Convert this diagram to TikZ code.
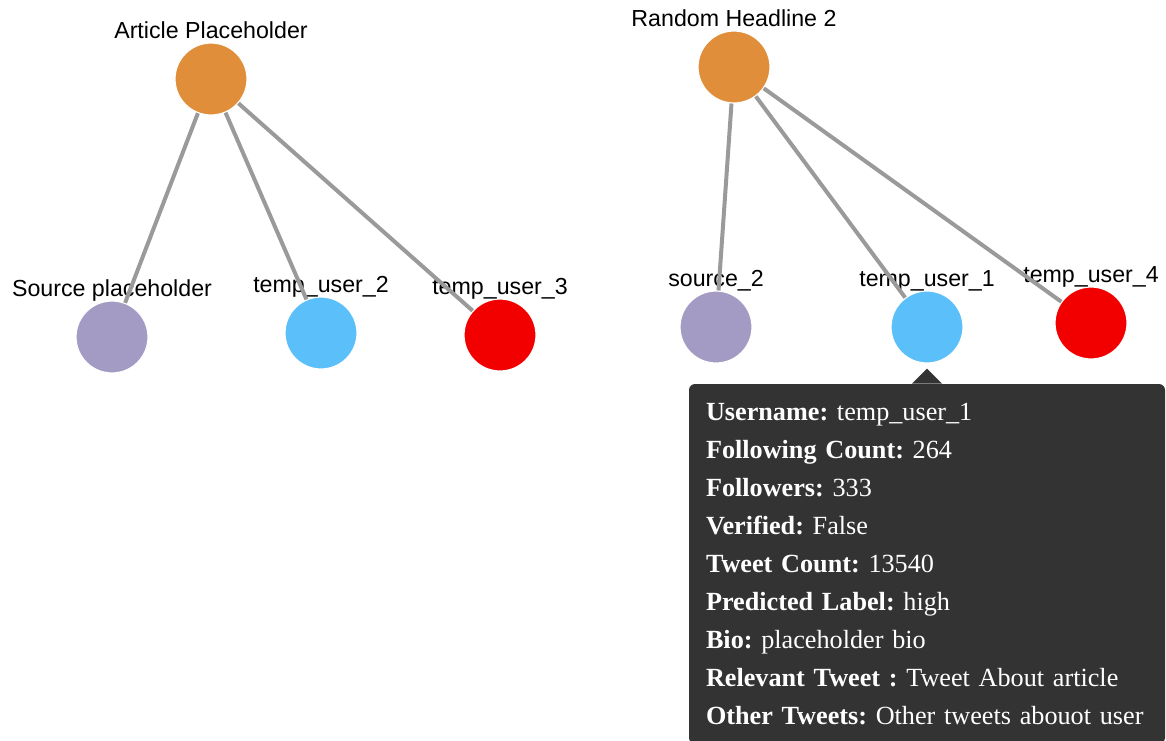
\documentclass[tikz,border=0pt]{standalone}
\usepackage{fontspec}
\setmainfont{Liberation Serif}
\newfontfamily\lblfont{Liberation Sans}
\usetikzlibrary{positioning}
\definecolor{headline}{HTML}{E08E3A}
\definecolor{source}{HTML}{A39BC3}
\definecolor{user}{HTML}{5BBFF9}
\definecolor{flagged}{HTML}{F20000}
\definecolor{tipbg}{HTML}{333333}
\definecolor{linkgray}{HTML}{9A9A9A}

\begin{document}
\begin{tikzpicture}[x=0.5pt,y=-0.5pt,
    vertex/.style={circle,minimum size=36pt,inner sep=0pt,draw=white,line width=0.6pt},
    lbl/.style={font=\lblfont\fontsize{11.6}{13}\selectfont,anchor=base,inner sep=0pt,label distance=2pt},
    link/.style={draw=linkgray,line width=2pt},
    tipbox/.style={fill=tipbg,text=white,rounded corners=3pt,text width=221pt,align=left,
      inner xsep=8.5pt,inner ysep=9.5pt,font=\frenchspacing\fontsize{13.1}{19}\selectfont}]
  \useasboundingbox (0,0) rectangle (1166,740);
  % first article
  \node[vertex,fill=headline,label={[lbl]above:Article Placeholder}] (a1) at (211,79) {};
  \node[vertex,fill=source,label={[lbl]above:Source placeholder}] (s1) at (112,337) {};
  \node[vertex,fill=user,label={[lbl]above:temp\_user\_2}] (u2) at (321,333) {};
  \node[vertex,fill=flagged,label={[lbl]above:temp\_user\_3}] (u3) at (500,335) {};
  % second article
  \node[vertex,fill=headline,label={[lbl]above:Random Headline 2}] (a2) at (734,67) {};
  \node[vertex,fill=source,label={[lbl]above:source\_2}] (s2) at (716,327) {};
  \node[vertex,fill=user,label={[lbl]above:temp\_user\_1}] (u1) at (927,327) {};
  \node[vertex,fill=flagged,label={[lbl]above:temp\_user\_4}] (u4) at (1091,323) {};
  \begin{scope}[link]
    \draw (a1) to (s1);
    \draw (a1) to (u2);
    \draw (a1) to (u3);
    \draw (a2) to (s2);
    \draw (a2) to (u1);
    \draw (a2) to (u4);
  \end{scope}
  % tooltip
  \node[tipbox,below=10pt of u1] (tip) {\textbf{Username:} temp\_user\_1\\
    \textbf{Following Count:} 264\\
    \textbf{Followers:} 333\\
    \textbf{Verified:} False\\
    \textbf{Tweet Count:} 13540\\
    \textbf{Predicted Label:} high\\
    \textbf{Bio:} placeholder bio\\
    \textbf{Relevant Tweet :} Tweet About article\\
    \textbf{Other Tweets:} Other tweets abouot user};
  \fill[tipbg] ([xshift=-7.5pt]tip.north) -- ([yshift=-2.5pt]u1.south) -- ([xshift=7.5pt]tip.north) -- cycle;
\end{tikzpicture}
\end{document}
